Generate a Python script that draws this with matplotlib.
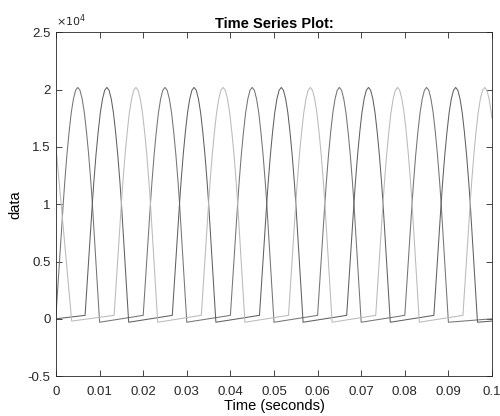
import numpy as np
import matplotlib
matplotlib.use('Agg')
import matplotlib.pyplot as plt
from matplotlib.ticker import FuncFormatter

plt.rcParams['font.family'] = ['Liberation Sans', 'DejaVu Sans']

# peak times (s) of the pulses of each signal
peaks_a = [0.005, 0.025, 0.045, 0.065, 0.085]
peaks_b = [0.01167, 0.03167, 0.05167, 0.07167, 0.09167]
peaks_c = [0.01833, 0.03833, 0.05833, 0.07833, 0.09833]

# shape of one pulse: offset from its peak (s) and value
pulse_dt = [-0.0050, -0.00333, -0.0030, -0.0025, -0.0020, -0.0015, -0.0010, -0.0005, 0.0,
            0.0005, 0.0010, 0.0015, 0.0020, 0.0025, 0.0030, 0.00333, 0.0050]
pulse_val = [300, 10100, 11900, 14300, 16300, 18000, 19200, 19950, 20200,
             19950, 19200, 18000, 16300, 14300, 11900, 10100, -300]

# samples before the first pulse and at the end of the record
head_a = ([], [])
head_b = ([0.0], [0])
head_c = ([0.0, 0.0036], [15000, -200])
tail_a = ([0.1], [0])
tail_b = ([0.1], [-200])
tail_c = ([0.1], [17500])

colors = ['#747474', '#606060', '#bababa']


def build(peaks, head, tail):
    t = list(head[0])
    v = list(head[1])
    for p in peaks:
        for d, y in zip(pulse_dt, pulse_val):
            if p + d < 0.1:
                t.append(p + d)
                v.append(y)
    t += tail[0]
    v += tail[1]
    return np.array(t), np.array(v)


fig = plt.figure(figsize=(5, 4.16), dpi=100)
ax = fig.add_axes([0.112, 0.096, 0.872, 0.826])

for (peaks, head, tail), c in zip([(peaks_a, head_a, tail_a),
                                   (peaks_b, head_b, tail_b),
                                   (peaks_c, head_c, tail_c)], colors):
    t, v = build(peaks, head, tail)
    ax.plot(t, v, color=c, lw=0.75)

ax.set_xlim(0, 0.1)
ax.set_ylim(-5000, 25000)
ax.set_xticks(np.arange(0, 0.1001, 0.01))
ax.set_yticks(np.arange(-5000, 25001, 5000))
ax.xaxis.set_major_formatter(FuncFormatter(lambda x, p: f"{x:.2f}".rstrip('0').rstrip('.') if x else "0"))
ax.yaxis.set_major_formatter(FuncFormatter(lambda y, p: f"{y/1e4:g}"))
ax.tick_params(direction='in', top=True, right=True, length=4, width=0.6,
               labelsize=9.5, colors='#262626')
ax.tick_params(axis='x', pad=7)
ax.tick_params(axis='y', pad=4)
for s in ax.spines.values():
    s.set_color('#262626')
    s.set_linewidth(0.6)

ax.text(0.0, 1.01, r'$\times10^{4}$', transform=ax.transAxes, fontsize=8,
        color='#262626', va='bottom', ha='left')
ax.set_title('Time Series Plot:', fontsize=10.5, fontweight='bold', pad=3)
ax.set_xlabel('Time (seconds)', fontsize=10.5, labelpad=1)
ax.set_ylabel('data', fontsize=10.5, labelpad=4)

fig.savefig('out.png', dpi=100)
